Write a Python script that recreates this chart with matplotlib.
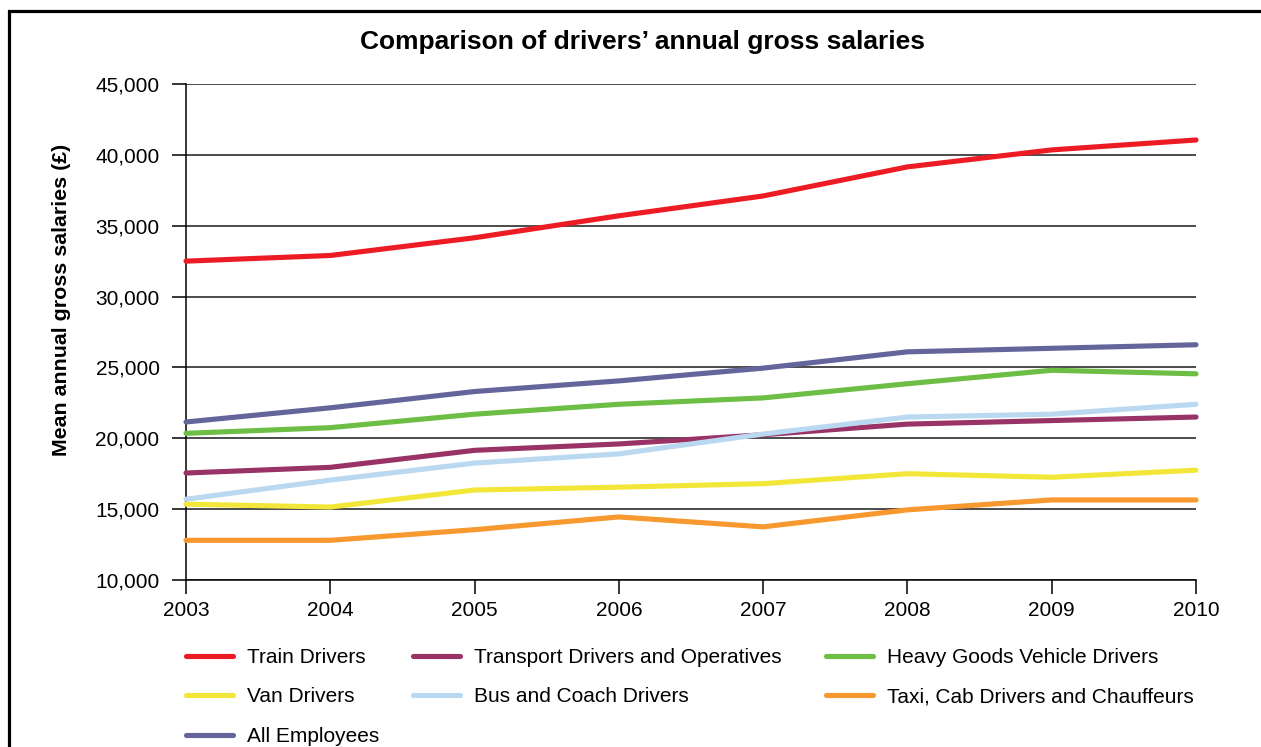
import matplotlib
matplotlib.use("Agg")
import matplotlib.pyplot as plt
from matplotlib.patches import Rectangle
from matplotlib.lines import Line2D
from matplotlib.ticker import StrMethodFormatter

plt.rcParams['font.family'] = ['Liberation Sans', 'DejaVu Sans']

years = [2003, 2004, 2005, 2006, 2007, 2008, 2009, 2010]

train = [32500, 32900, 34150, 35700, 37100, 39150, 40350, 41050]
transport = [17550, 17950, 19150, 19600, 20250, 21000, 21250, 21500]
hgv = [20350, 20750, 21700, 22400, 22850, 23850, 24800, 24550]
van = [15350, 15150, 16350, 16550, 16800, 17500, 17250, 17750]
bus = [15700, 17050, 18250, 18900, 20300, 21500, 21700, 22400]
taxi = [12800, 12800, 13550, 14450, 13750, 14950, 15650, 15650]
all_emp = [21150, 22150, 23300, 24050, 24950, 26100, 26350, 26600]

series = [
    ("Train Drivers", train, "#ED1C24"),
    ("Transport Drivers and Operatives", transport, "#993366"),
    ("Heavy Goods Vehicle Drivers", hgv, "#6CBE45"),
    ("Van Drivers", van, "#F2E638"),
    ("Bus and Coach Drivers", bus, "#BAD8EF"),
    ("Taxi, Cab Drivers and Chauffeurs", taxi, "#F7992F"),
    ("All Employees", all_emp, "#64659B"),
]

W, H = 1261, 747
fig = plt.figure(figsize=(W / 100, H / 100), dpi=100)
ax = fig.add_axes([186 / W, 1 - 580 / H, (1196 - 186) / W, (580 - 84) / H])

ax.set_xlim(2003, 2010)
ax.set_ylim(10000, 45000)
ax.set_xticks(years)
ax.set_yticks(range(10000, 45001, 5000))
ax.yaxis.set_major_formatter(StrMethodFormatter('{x:,.0f}'))
ax.grid(axis='y', color='#1a1a1a', linewidth=1.1)
ax.set_axisbelow(True)
for side in ('top', 'right'):
    ax.spines[side].set_visible(False)
for side in ('left', 'bottom'):
    ax.spines[side].set_color('black')
    ax.spines[side].set_linewidth(1.1)
ax.tick_params(axis='both', direction='out', length=10, width=1.1,
               labelsize=15, colors='black')
ax.tick_params(axis='y', pad=9)
ax.tick_params(axis='x', pad=5)

handles = {}
for name, vals, col in series:
    ax.plot(years, vals, color=col, lw=3.7, solid_capstyle='round',
            solid_joinstyle='round', clip_on=False, zorder=3)
    handles[name] = Line2D([], [], color=col, lw=3.7, solid_capstyle='round')

fig.text(642 / W, 1 - 42 / H, "Comparison of drivers\u2019 annual gross salaries",
         ha='center', va='center', fontsize=19, fontweight='bold')
fig.text(62 / W, 1 - 300 / H, "Mean annual gross salaries (\u00a3)",
         ha='center', va='center', rotation=90, fontsize=15.4, fontweight='bold')

# legend, laid out in three columns
columns = [
    (186, ["Train Drivers", "Van Drivers", "All Employees"]),
    (413, ["Transport Drivers and Operatives", "Bus and Coach Drivers"]),
    (826, ["Heavy Goods Vehicle Drivers", "Taxi, Cab Drivers and Chauffeurs"]),
]
for x0, names in columns:
    fig.legend([handles[n] for n in names], names, loc='upper left',
               bbox_to_anchor=(x0 / W, 1 - 648 / H), frameon=False,
               fontsize=15, borderpad=0, borderaxespad=0,
               handlelength=2.25, handletextpad=0.7, labelspacing=0.98)

# outer frame
fig.patches.append(Rectangle((8.5 / W, -0.1), 1.2, 1.1 - 11.3 / H,
                             transform=fig.transFigure, fill=False,
                             edgecolor='black', linewidth=2.3))

fig.savefig("out.png", dpi=100)
